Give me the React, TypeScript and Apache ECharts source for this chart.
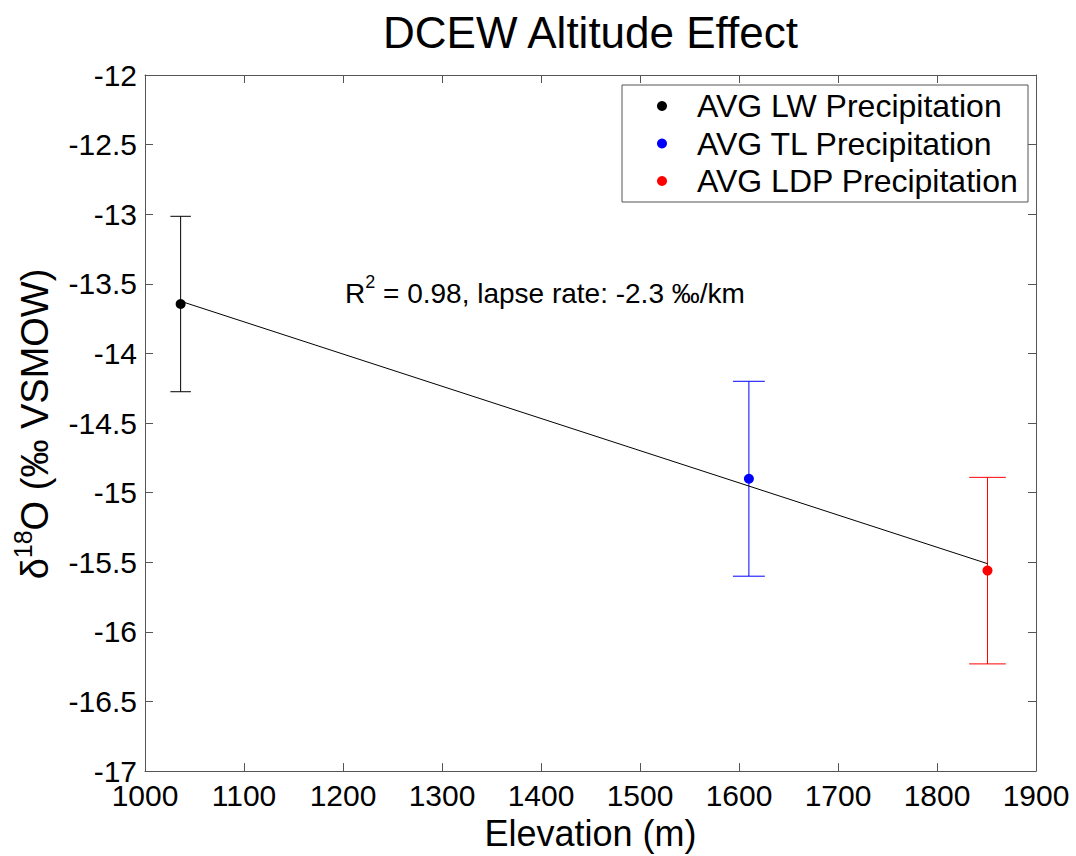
import React, { useEffect, useRef } from "react";
import * as echarts from "echarts";

// ---- data ----
const sites = ["AVG LW Precipitation", "AVG TL Precipitation", "AVG LDP Precipitation"];
const elevations = [1036, 1610, 1851];
const meanD18O = [-13.645, -14.9, -15.56];
const errD18O = [0.63, 0.7, 0.67];
const siteColors = ["#000000", "#0000ff", "#ff0000"];
const fitX = [1036, 1851];
const fitY = [-13.625, -15.51];
const xRange = { min: 1000, max: 1900, interval: 100 };
const yRange = { min: -17, max: -12, interval: 0.5 };
const titleText = "DCEW Altitude Effect";
const xName = "Elevation (m)";

const FONT = "'Liberation Sans', Arial, Helvetica, sans-serif";
const AX = "#555555";

export default function App() {
  const ref = useRef<HTMLDivElement>(null);
  useEffect(() => {
    if (!ref.current) return;
    const chart = echarts.init(ref.current, null, { renderer: "svg" });

    const axisCommon = {
      axisLine: { show: true, onZero: false, lineStyle: { color: AX, width: 1 } },
      axisTick: { show: true, inside: true, length: 8, lineStyle: { color: AX, width: 1 } },
      splitLine: { show: false },
    };

    const series: any[] = [];
    sites.forEach((name, i) => {
      series.push({
        type: "custom",
        name: name + " err",
        silent: true,
        z: 2,
        itemStyle: { color: siteColors[i] },
        data: [[elevations[i], meanD18O[i] - errD18O[i], meanD18O[i] + errD18O[i]]],
        renderItem: (params: any, api: any) => {
          const x = api.value(0);
          const lo = api.value(1);
          const hi = api.value(2);
          const half = x / 100;
          const pLo = api.coord([x, lo]);
          const pHi = api.coord([x, hi]);
          const cL = api.coord([x - half, lo]);
          const cR = api.coord([x + half, lo]);
          const mk = () => ({ stroke: siteColors[i], lineWidth: 1, fill: null });
          return {
            type: "group",
            children: [
              { type: "line", shape: { x1: pLo[0], y1: pLo[1], x2: pHi[0], y2: pHi[1] }, style: mk() },
              { type: "line", shape: { x1: cL[0], y1: pLo[1], x2: cR[0], y2: pLo[1] }, style: mk() },
              { type: "line", shape: { x1: cL[0], y1: pHi[1], x2: cR[0], y2: pHi[1] }, style: mk() },
            ],
          };
        },
      });
    });
    series.push({
      type: "line",
      name: "fit",
      silent: true,
      symbol: "none",
      z: 3,
      lineStyle: { color: "#000", width: 1 },
      data: fitX.map((x, i) => [x, fitY[i]]),
    });
    sites.forEach((name, i) => {
      series.push({
        type: "scatter",
        name,
        z: 4,
        symbol: "circle",
        symbolSize: 10,
        itemStyle: { color: siteColors[i], opacity: 1 },
        data: [[elevations[i], meanD18O[i]]],
      });
    });

    // legend drawn as graphic (box, markers, labels)
    const legendLeft = 622;
    const legendTop = 85;
    const legendW = 406;
    const legendH = 117;
    const rowY0 = 106;
    const rowStep = 37.5;
    const legendGraphic: any[] = [
      {
        type: "rect",
        shape: { x: legendLeft, y: legendTop, width: legendW, height: legendH },
        style: { fill: "#fff", stroke: AX, lineWidth: 1 },
        z: 10,
      },
    ];
    sites.forEach((name, i) => {
      legendGraphic.push({
        type: "circle",
        shape: { cx: 662, cy: rowY0 + i * rowStep, r: 5 },
        style: { fill: siteColors[i] },
        z: 11,
      });
      legendGraphic.push({
        type: "text",
        x: 697,
        y: rowY0 + i * rowStep,
        z: 11,
        style: {
          text: name,
          fill: "#000",
          font: `32px ${FONT}`,
          align: "left",
          verticalAlign: "middle",
        },
      });
    });

    const option: any = {
      animation: false,
      backgroundColor: "#ffffff",
      textStyle: { fontFamily: FONT },
      grid: { left: 145, top: 75, right: 40, bottom: 79, containLabel: false },
      xAxis: [
        {
          type: "value",
          min: xRange.min,
          max: xRange.max,
          interval: xRange.interval,
          position: "bottom",
          ...axisCommon,
          axisLabel: {
            color: "#000",
            fontSize: 30,
            margin: 9,
            fontFamily: FONT,
            showMinLabel: true,
            showMaxLabel: true,
            formatter: (v: number) => String(v),
          },
          name: xName,
          nameLocation: "middle",
          nameGap: 40,
          nameTextStyle: { color: "#000", fontSize: 36, fontFamily: FONT },
        },
        {
          type: "value",
          min: xRange.min,
          max: xRange.max,
          interval: xRange.interval,
          position: "top",
          ...axisCommon,
          axisLabel: { show: false },
        },
      ],
      yAxis: [
        {
          type: "value",
          min: yRange.min,
          max: yRange.max,
          interval: yRange.interval,
          position: "left",
          ...axisCommon,
          axisLabel: {
            color: "#000",
            fontSize: 30,
            margin: 8,
            fontFamily: FONT,
            showMinLabel: true,
            showMaxLabel: true,
            formatter: (v: number) => String(v),
          },
        },
        {
          type: "value",
          min: yRange.min,
          max: yRange.max,
          interval: yRange.interval,
          position: "right",
          ...axisCommon,
          axisLabel: { show: false },
        },
      ],
      graphic: [
        {
          type: "text",
          x: 590.5,
          y: 32,
          style: {
            text: titleText,
            fill: "#000",
            font: `44px ${FONT}`,
            align: "center",
            verticalAlign: "middle",
          },
        },
        {
          type: "text",
          x: 32,
          y: 424,
          rotation: Math.PI / 2,
          style: {
            text: "{n|δ}{s|18}{n|O (‰ VSMOW)}",
            align: "center",
            verticalAlign: "middle",
            rich: {
              n: { fontSize: 38, fontFamily: FONT, fill: "#000", lineHeight: 44, verticalAlign: "bottom" },
              s: { fontSize: 25, fontFamily: FONT, fill: "#000", lineHeight: 44, verticalAlign: "top" },
            },
          },
        },
        {
          type: "text",
          x: 345,
          y: 290,
          style: {
            text: "{n|R}{s|2}{n| = 0.98, lapse rate: -2.3 ‰/km}",
            align: "left",
            verticalAlign: "middle",
            rich: {
              n: { fontSize: 28, fontFamily: FONT, fill: "#000", lineHeight: 34, verticalAlign: "bottom" },
              s: { fontSize: 18, fontFamily: FONT, fill: "#000", lineHeight: 34, verticalAlign: "top" },
            },
          },
        },
        ...legendGraphic,
      ],
      series,
    };
    chart.setOption(option);
    return () => chart.dispose();
  }, []);
  return (
    <div
      ref={ref}
      style={{ position: "fixed", left: 0, top: 0, width: 1076, height: 856, background: "#fff" }}
    />
  );
}
